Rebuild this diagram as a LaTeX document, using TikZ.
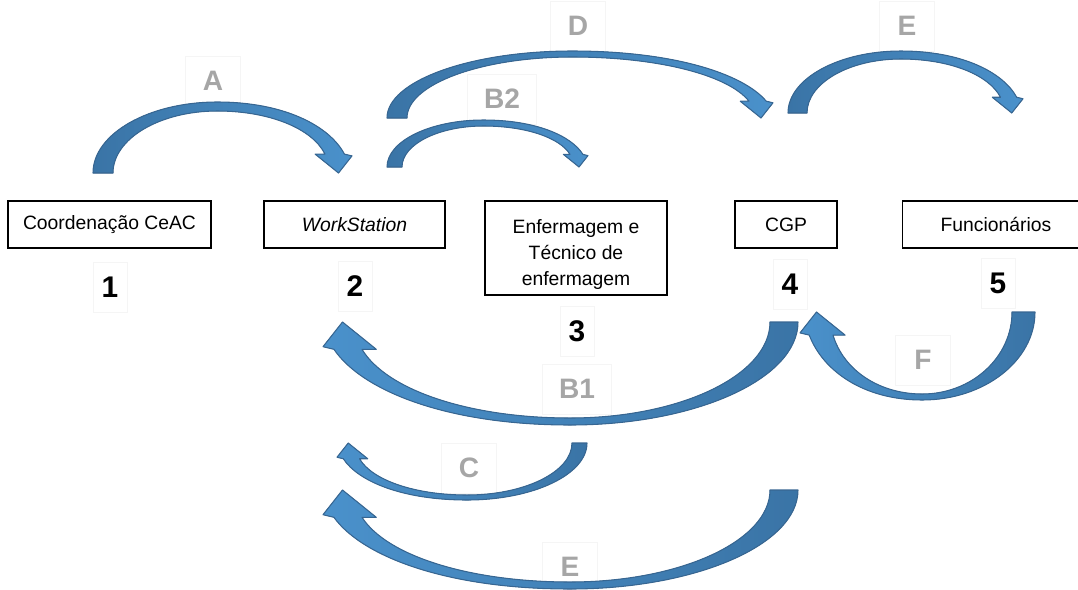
\documentclass[tikz,border=0pt]{standalone}
\usepackage{fontspec}
\setmainfont{Liberation Sans}
\usetikzlibrary{positioning}
\definecolor{arrowdark}{RGB}{58,116,166}
\definecolor{arrowlight}{RGB}{74,145,203}
\definecolor{arrowline}{RGB}{55,102,146}
\definecolor{labelgray}{RGB}{166,166,166}

% curved block arrow in local coordinates: W, H, base width, head size, top thickness, colours
\newcommand{\bentarrow}[6]{%
  \pgfmathsetmacro{\arrAx}{0.48*#1}
  \pgfmathsetmacro{\arrIy}{#2-#5}
  \pgfmathsetmacro{\arrOnx}{#1-0.42*#4}
  \pgfmathsetmacro{\arrOny}{1.05*#4}
  \pgfmathsetmacro{\arrInx}{#1-1.5*#4}
  \pgfmathsetmacro{\arrIny}{1.05*#4}
  \filldraw[arrowbody,#6] (0,0)
    .. controls (0,{0.552*#2}) and ({0.448*\arrAx},#2) .. (\arrAx,#2)
    .. controls ({\arrAx+0.52*(\arrOnx-\arrAx)},#2) and ({\arrOnx-0.12*(\arrOnx-\arrAx)},{\arrOny+0.55*(#2-\arrOny)}) .. (\arrOnx,\arrOny)
    -- (#1,{0.95*#4}) -- ({#1-0.75*#4},0) -- ({#1-2.05*#4},{1.05*#4}) -- (\arrInx,\arrIny)
    .. controls ({\arrInx-0.12*(\arrInx-\arrAx)},{\arrIny+0.6*(\arrIy-\arrIny)}) and ({\arrAx+0.48*(\arrInx-\arrAx)},\arrIy) .. (\arrAx,\arrIy)
    .. controls ({#3+0.448*(\arrAx-#3)},\arrIy) and (#3,{0.552*\arrIy}) .. (#3,0) -- cycle;
}

\begin{document}
\begin{tikzpicture}[x=0.02cm, y=-0.02cm,
    box/.style = {draw, line width=0.6pt, minimum height=0.94cm, align=center, font=\fontsize{11}{14.7}\selectfont},
    num/.style = {draw=black!4, minimum width=0.68cm, minimum height=1cm, font=\fontsize{17}{19}\selectfont\bfseries},
    lbl/.style = {draw=black!4, minimum width=1.1cm, minimum height=1cm, text=labelgray, font=\fontsize{16}{18}\selectfont\bfseries},
    arrowbody/.style = {draw=arrowline, line width=0.6pt, line join=round},
    goright/.style = {left color=arrowdark, right color=arrowlight},
    goleft/.style = {left color=arrowlight, right color=arrowdark}]
  \useasboundingbox (0,0) rectangle (1078,589);

  % boxes
  \node[box, minimum width=4.06cm] (coord) at (109.5,224.5) {Coordenação CeAC};
  \node[box, minimum width=3.62cm] (ws) at (354.5,224.5) {\itshape WorkStation};
  \node[box, minimum width=3.64cm, minimum height=1.88cm] (enf) at (576,248) {\rule{0pt}{15pt}Enfermagem e\\Técnico de\\enfermagem};
  \node[box, minimum width=2.04cm] (cgp) at (786,224.5) {CGP};
  \node[box, minimum width=3.76cm] (func) at (996,224.5) {Funcionários};

  % numbers
  \node[num] (n1) at (110,287) {1};
  \node[num] (n2) at (355,286) {2};
  \node[num] (n3) at (577,331) {3};
  \node[num] (n4) at (790,284) {4};
  \node[num] (n5) at (998,283) {5};

  % labels
  \node[lbl] (lA) at (213,81) {A};
  \node[lbl] (lD) at (578,26) {D};
  \node[lbl, minimum width=1.38cm] (lBtwo) at (502,99) {B2};
  \node[lbl] (lE) at (907,26) {E};
  \node[lbl, minimum width=1.38cm] (lBone) at (577,389) {B1};
  \node[lbl] (lC) at (469,468) {C};
  \node[lbl] (lF) at (923,360) {F};
  \node[lbl] (lEtwo) at (570,567) {E};

  % arrow bases
  \coordinate (baseA) at (93,173);
  \coordinate (baseD) at (387,118);
  \coordinate (baseBtwo) at (387,167);
  \coordinate (baseE) at (788,113);
  \coordinate (baseBone) at (798,322);
  \coordinate (baseC) at (587,443);
  \coordinate (baseEtwo) at (798,490);
  \coordinate (baseF) at (1035,312);

  % arrows over the boxes
  \begin{scope}[shift={(baseA)}, yscale=-1]
    \bentarrow{259}{71}{20}{18}{9}{goright}
  \end{scope}
  \begin{scope}[shift={(baseD)}, yscale=-1]
    \bentarrow{386}{67}{20}{16}{6}{goright}
  \end{scope}
  \begin{scope}[shift={(baseBtwo)}, yscale=-1]
    \bentarrow{201}{47}{15}{12}{6}{goright}
  \end{scope}
  \begin{scope}[shift={(baseE)}, yscale=-1]
    \bentarrow{235}{62}{19}{15}{8}{goright}
  \end{scope}

  % arrows under the boxes
  \begin{scope}[shift={(baseBone)}, xscale=-1]
    \bentarrow{475}{103}{28}{26}{7}{goleft}
  \end{scope}
  \begin{scope}[shift={(baseC)}, xscale=-1]
    \bentarrow{250}{57}{15}{15}{5}{goleft}
  \end{scope}
  \begin{scope}[shift={(baseEtwo)}, xscale=-1]
    \bentarrow{475}{99}{28}{26}{7}{goleft}
  \end{scope}
  \begin{scope}[shift={(baseF)}, xscale=-1]
    \bentarrow{235}{88}{23}{22}{6}{goleft}
  \end{scope}
\end{tikzpicture}
\end{document}
